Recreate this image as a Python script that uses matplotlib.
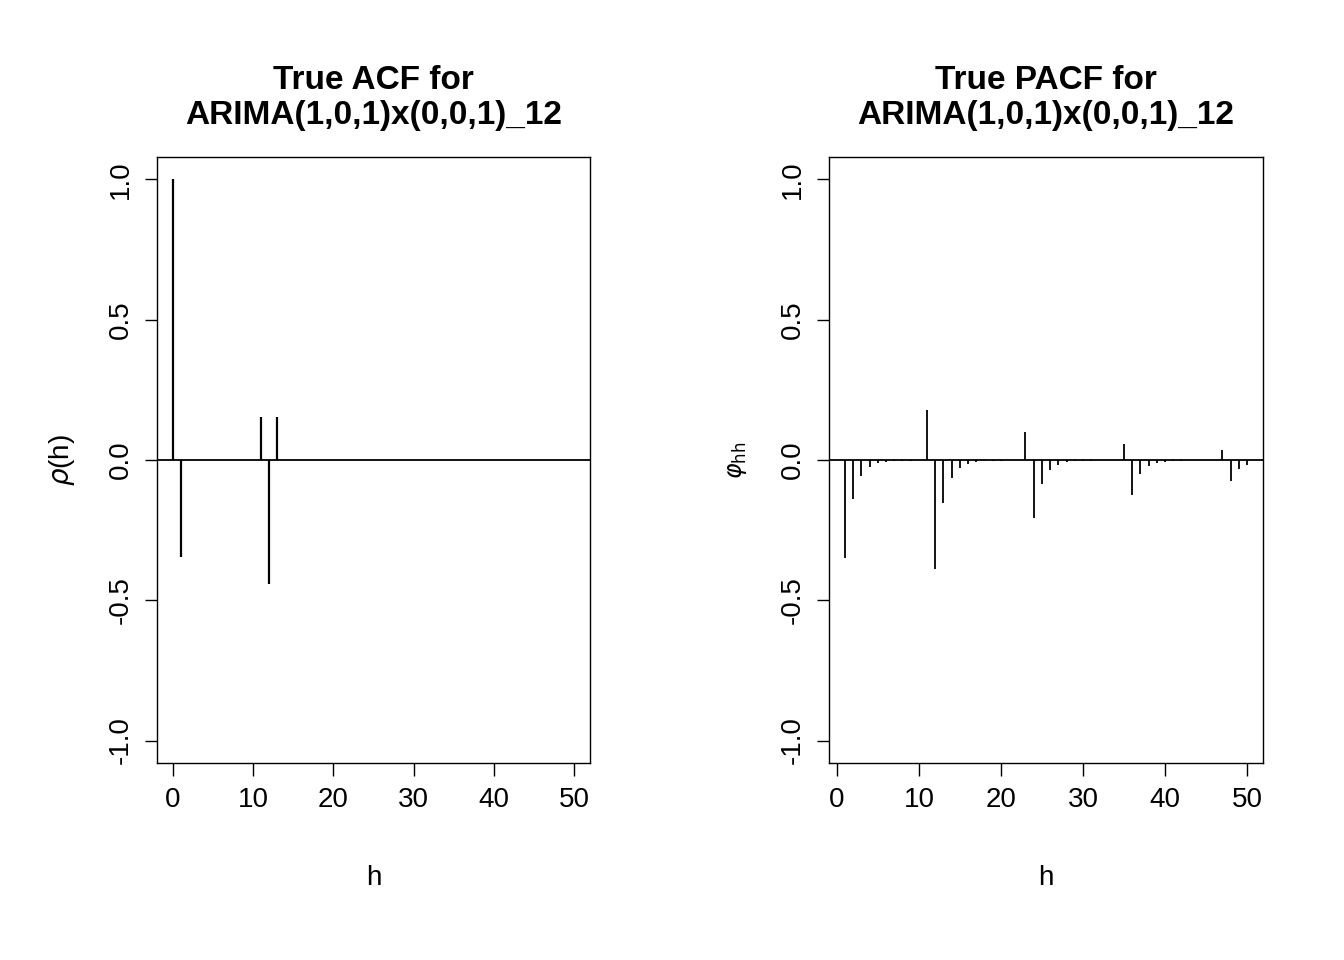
import matplotlib
matplotlib.use("Agg")
import matplotlib.pyplot as plt
import numpy as np

plt.rcParams['font.family'] = ['Liberation Sans', 'DejaVu Sans']

acf_lags = list(range(0, 51))
acf_vals = [0.0] * 51
acf_vals[0] = 1.0
acf_vals[1] = -0.345
acf_vals[11] = 0.152
acf_vals[12] = -0.443
acf_vals[13] = 0.152

pacf_lags = list(range(1, 51))
pacf_vals = [-0.349, -0.138, -0.057, -0.025, -0.012, -0.007, -0.004, -0.003, -0.002, -0.001,
             0.179, -0.387, -0.154, -0.063, -0.027, -0.013, -0.007, -0.004, -0.003, -0.002,
             -0.001, -0.001, 0.099, -0.208, -0.086, -0.037, -0.018, -0.008, -0.004, -0.003,
             -0.002, -0.001, -0.001, -0.001, 0.058, -0.123, -0.051, -0.023, -0.012, -0.006,
             -0.003, -0.002, -0.001, -0.001, -0.001, -0.001, 0.035, -0.074, -0.032, -0.017]

yticks = [-1.0, -0.5, 0.0, 0.5, 1.0]
xticks = [0, 10, 20, 30, 40, 50]

fig = plt.figure(figsize=(13.44, 9.6), dpi=100)
W, H = 1344, 960
def ax_at(x0, x1, y0, y1):
    return fig.add_axes([x0 / W, 1 - y1 / H, (x1 - x0) / W, (y1 - y0) / H])

ax1 = ax_at(157, 590, 157, 763)
ax2 = ax_at(829, 1263, 157, 763)

def style(ax, xlim, title, ylabel, ylsize):
    ax.set_xlim(*xlim)
    ax.set_ylim(-1.08, 1.08)
    ax.set_xticks(xticks)
    ax.set_yticks(yticks)
    ax.set_yticklabels(['-1.0', '-0.5', '0.0', '0.5', '1.0'], rotation=90, va='center')
    ax.tick_params(direction='out', length=9, width=1, labelsize=20, pad=8)
    for s in ax.spines.values():
        s.set_linewidth(1)
    ax.set_title(title, fontsize=24, fontweight='bold', pad=24, linespacing=1.15)
    ax.set_xlabel('h', fontsize=20, labelpad=38)
    ax.set_ylabel(ylabel, fontsize=ylsize, labelpad=22)
    ax.axhline(0, color='black', lw=1.3)

ax1.vlines(acf_lags, 0, acf_vals, color='black', lw=1.6)
style(ax1, (-2, 52), 'True ACF for\nARIMA(1,0,1)x(0,0,1)_12', r'$\rho$(h)', 20)

ax2.vlines(pacf_lags, 0, pacf_vals, color='black', lw=1.3)
style(ax2, (-0.96, 51.96), 'True PACF for\nARIMA(1,0,1)x(0,0,1)_12', r'$\varphi_{\rm hh}$', 17)

fig.savefig('out.png', dpi=100)
